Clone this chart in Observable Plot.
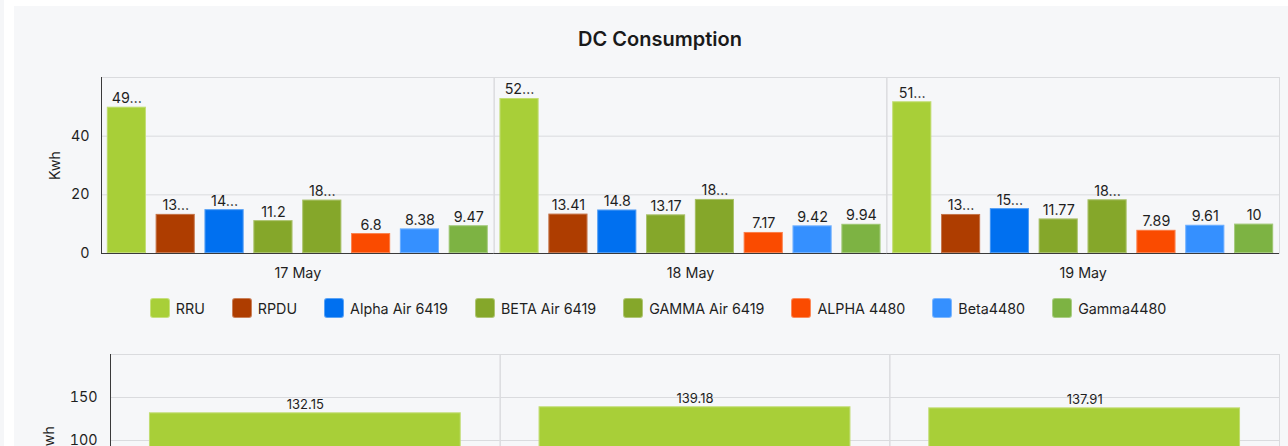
<!DOCTYPE html>
<html>
<head>
<meta charset="utf-8">
<script src="https://cdn.jsdelivr.net/npm/d3@7"></script>
<script src="https://cdn.jsdelivr.net/npm/@observablehq/plot@0.6"></script>
<style>
  html, body { margin: 0; padding: 0; background: #ffffff; width: 1288px; height: 446px; overflow: hidden; }
  body { position: relative; font-family: "Inter", "Liberation Sans", sans-serif; color: #1f1f1f; }
  #strip { position: absolute; left: 0; top: 0; width: 4px; height: 446px; background: #f5f6f8; }
  #card { position: absolute; left: 14px; top: 6px; width: 1300px; height: 600px; background: #f6f7f9; }
  #title { position: absolute; left: 0; top: 27px; width: 1320px; text-align: center; font-size: 20px; font-weight: 600; line-height: 24px; color: #1a1a1a; }
  #top, #bottom { position: absolute; left: 0; }
  #top { top: 60px; }
  #bottom { top: 337px; }
  #legend { position: absolute; left: 0; top: 298px; width: 1316px; display: flex; justify-content: center; align-items: center; font-size: 14.3px; color: #1f1f1f; }
  .item { display: flex; align-items: center; margin: 0 13.5px; }
  .sw { width: 20px; height: 20px; border-radius: 3px; margin-right: 6px; box-sizing: border-box; border: 1px solid rgba(255,255,255,0.35); }
</style>
</head>
<body>
<div id="strip"></div>
<div id="card"></div>
<div id="title">DC Consumption</div>
<div id="top"></div>
<div id="legend"></div>
<div id="bottom"></div>
<script>
const dates = ["17 May", "18 May", "19 May"];
const series = ["RRU", "RPDU", "Alpha Air 6419", "BETA Air 6419", "GAMMA Air 6419", "ALPHA 4480", "Beta4480", "Gamma4480"];
const colors = ["#a8cf38", "#ae3d00", "#0070f0", "#85a72a", "#85a72a", "#fa4b00", "#3590ff", "#7db343"];
const may17 = [49.853, 13.325, 14.935, 11.2, 18.187, 6.8, 8.38, 9.47];
const may18 = [52.845, 13.41, 14.8, 13.17, 18.425, 7.17, 9.42, 9.94];
const may19 = [51.725, 13.305, 15.305, 11.77, 18.305, 7.89, 9.61, 10];
const totals = [132.15, 139.18, 137.91];
const topTicks = [0, 20, 40];
const bottomTicks = [0, 50, 100, 150];

const byDate = [may17, may18, may19];
const rows = [];
dates.forEach((d, i) => series.forEach((s, j) => rows.push({date: d, series: s, value: byDate[i][j]})));
const totalRows = dates.map((d, i) => ({date: d, kind: "DC Total", value: totals[i]}));

const fmt = v => { const s = String(v); return s.length > 5 ? s.slice(0, 2) + "…" : s; };
const gridColor = "#dadbde";
const axisColor = "#3a3a3a";

const topPlot = Plot.plot({
  width: 1288, height: 223,
  marginTop: 17, marginBottom: 30, marginLeft: 101, marginRight: 9,
  style: {fontFamily: "Inter, 'Liberation Sans', sans-serif", fontSize: "14px", background: "transparent", color: "#1f1f1f"},
  fx: {domain: dates, padding: 0, round: false},
  x: {domain: series, paddingInner: 0.2, paddingOuter: 0.12, round: false, axis: null},
  y: {domain: [0, 60]},
  color: {domain: series, range: colors},
  marks: [
    Plot.frame({stroke: gridColor}),
    Plot.gridY([20, 40], {stroke: gridColor, strokeOpacity: 1}),
    Plot.barY(rows, {fx: "date", x: "series", y: "value", fill: "series"}),
    Plot.barY(rows, {fx: "date", x: "series", y: "value", fill: "none", stroke: "white", strokeOpacity: 0.3, inset: 0.5}),
    Plot.text(rows, {fx: "date", x: "series", y: "value", text: d => fmt(d.value), lineAnchor: "bottom", dy: -4, fill: "#1f1f1f", fontSize: 14.3}),
    Plot.ruleY([0], {stroke: axisColor}),
    Plot.frame({anchor: "left", stroke: axisColor, fx: () => dates[0]}),
    Plot.axisY({ticks: topTicks, tickSize: 0, tickPadding: 12, label: "Kwh", labelAnchor: "center", labelArrow: "none", labelOffset: 52, fontSize: 14.3}),
    Plot.axisFx({anchor: "bottom", tickSize: 0, tickPadding: 14, label: null, fontSize: 14.3})
  ]
});
document.getElementById("top").appendChild(topPlot);

const legend = document.getElementById("legend");
series.forEach((s, i) => {
  const it = document.createElement("div");
  it.className = "item";
  const sw = document.createElement("div");
  sw.className = "sw";
  sw.style.background = colors[i];
  const lb = document.createElement("span");
  lb.textContent = s;
  it.appendChild(sw); it.appendChild(lb);
  legend.appendChild(it);
});

const bottomPlot = Plot.plot({
  width: 1288, height: 219,
  marginTop: 17, marginBottom: 30, marginLeft: 110, marginRight: 9,
  style: {fontFamily: "Inter, 'Liberation Sans', sans-serif", fontSize: "14px", background: "transparent", color: "#1f1f1f"},
  fx: {domain: dates, padding: 0, round: false},
  x: {domain: ["DC Total"], paddingInner: 0.2, paddingOuter: 0.1, round: false, axis: null},
  y: {domain: [0, 200]},
  marks: [
    Plot.frame({stroke: gridColor}),
    Plot.gridY([50, 100, 150], {stroke: gridColor, strokeOpacity: 1}),
    Plot.barY(totalRows, {fx: "date", x: "kind", y: "value", fill: colors[0]}),
    Plot.barY(totalRows, {fx: "date", x: "kind", y: "value", fill: "none", stroke: "white", strokeOpacity: 0.3, inset: 0.5}),
    Plot.text(totalRows, {fx: "date", x: "kind", y: "value", text: d => String(d.value), lineAnchor: "bottom", dy: -4, fill: "#1f1f1f", fontSize: 13}),
    Plot.ruleY([0], {stroke: axisColor}),
    Plot.frame({anchor: "left", stroke: axisColor, fx: () => dates[0]}),
    Plot.axisY({ticks: bottomTicks, tickSize: 0, tickPadding: 13, label: "Kwh", labelAnchor: "center", labelArrow: "none", labelOffset: 67, fontSize: 14.3}),
    Plot.axisFx({anchor: "bottom", tickSize: 0, tickPadding: 14, label: null, fontSize: 14.3})
  ]
});
document.getElementById("bottom").appendChild(bottomPlot);
</script>
</body>
</html>
